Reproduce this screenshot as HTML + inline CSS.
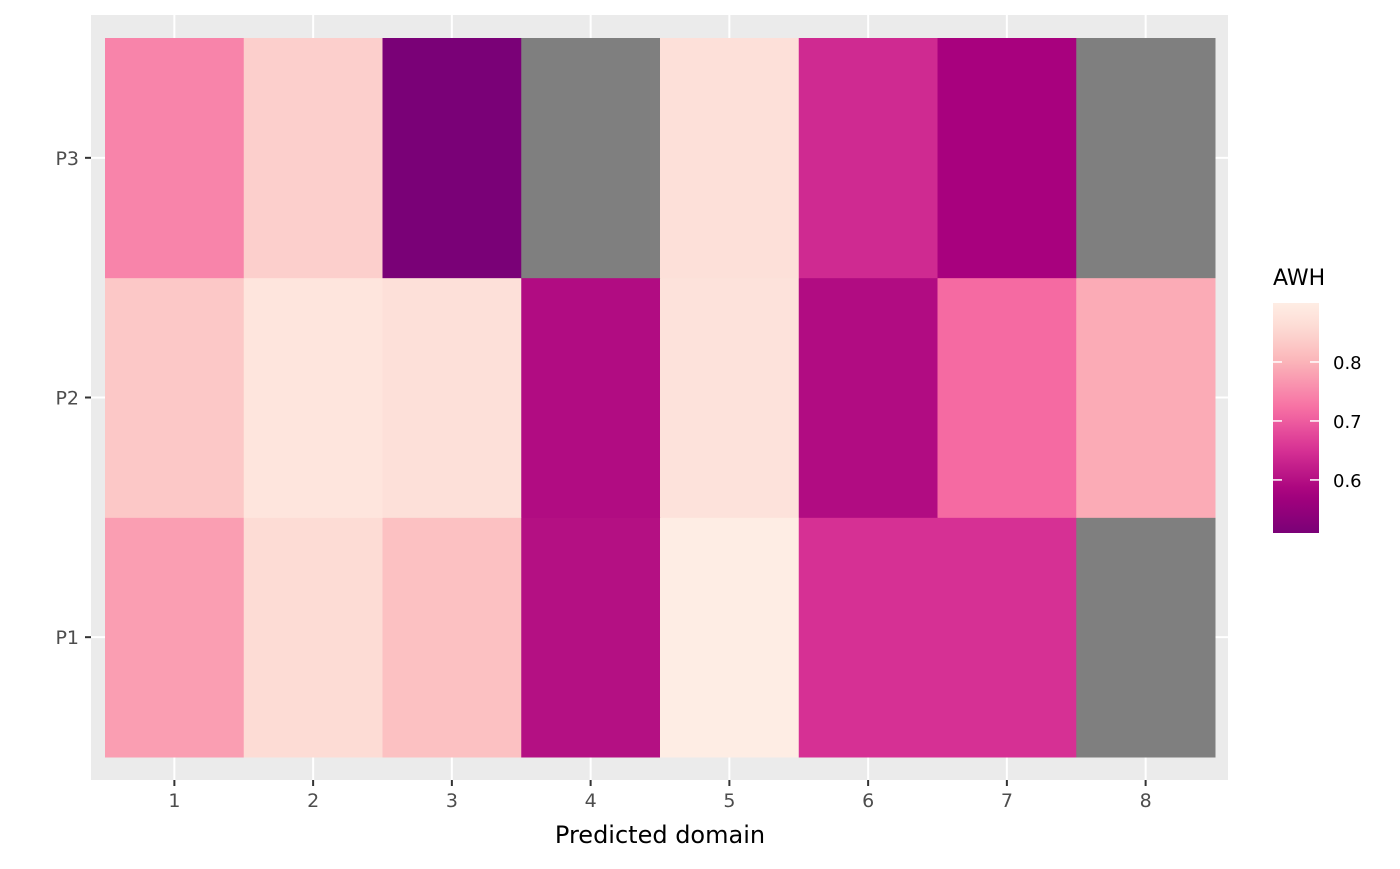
<!DOCTYPE html>
<html><head><meta charset="utf-8"><style>
body{margin:0;background:#fff;font-family:"DejaVu Sans","Liberation Sans",sans-serif;}
</style></head><body>
<svg id="chart" width="1400" height="865" xmlns="http://www.w3.org/2000/svg" font-family="DejaVu Sans, Liberation Sans, sans-serif">
<defs><linearGradient id="lg" x1="0" y1="1" x2="0" y2="0"></linearGradient></defs>
<rect x="91" y="15" width="1137" height="765" fill="#ebebeb"/>
<g id="grid"></g><g id="tiles"></g><g id="axes"></g><g id="legend"></g>
<text x="660" y="843" font-size="24" text-anchor="middle" fill="#000">Predicted domain</text>
</svg>
<script>
const xCats=["1","2","3","4","5","6","7","8"];
const yCats=["P1","P2","P3"];
const rowP1=[0.775,0.86,0.82,0.6,0.9,0.65,0.65,null];
const rowP2=[0.83,0.88,0.87,0.595,0.875,0.595,0.715,0.79];
const rowP3=[0.745,0.84,0.51,null,0.87,0.64,0.58,null];
const legendTicks=[0.6,0.7,0.8];
const legendMin=0.51, legendMax=0.9;
const stops=[[0.51,[122,1,119]],[0.58,[168,1,126]],[0.6,[180,16,131]],[0.65,[214,48,148]],[0.72,[247,110,163]],[0.8,[251,180,185]],[0.86,[253,220,213]],[0.9,[254,237,228]]];
function color(v){if(v==null)return"#7f7f7f";
 for(let i=0;i<stops.length-1;i++){const a=stops[i],b=stops[i+1];
  if(v<=b[0]||i==stops.length-2){let t=Math.max(0,Math.min(1,(v-a[0])/(b[0]-a[0])));
   return"rgb("+a[1].map((c,k)=>Math.round(c+(b[1][k]-c)*t)).join(",")+")";}}}
const NS="http://www.w3.org/2000/svg";
function el(t,a,p){const e=document.createElementNS(NS,t);for(const k in a)e.setAttribute(k,a[k]);document.getElementById(p).appendChild(e);return e;}
const x0=105,tw=(1215-105)/8, y0=38, th=(757-38)/3;
const xs=i=>x0+tw*(i+0.5);
const ys=j=>y0+th*(yCats.length-1-j+0.5);
xCats.forEach((c,i)=>{const g=el("line",{x1:xs(i),x2:xs(i),y1:15,y2:780,stroke:"#fff","stroke-width":2},"grid");
 
 
 el("line",{x1:xs(i),x2:xs(i),y1:780,y2:786,stroke:"#333","stroke-width":2},"axes");
 const l=el("text",{x:xs(i),y:807,"font-size":19,fill:"#4d4d4d","text-anchor":"middle"},"axes");l.textContent=c;
 
 });
yCats.forEach((c,j)=>{const g=el("line",{x1:91,x2:1228,y1:ys(j),y2:ys(j),stroke:"#fff","stroke-width":2},"grid");
 
 
 el("line",{x1:85,x2:91,y1:ys(j),y2:ys(j),stroke:"#333","stroke-width":2},"axes");
 const l=el("text",{x:79,y:ys(j)+7,"font-size":19,fill:"#4d4d4d","text-anchor":"end"},"axes");l.textContent=c;
 
 });
[rowP1,rowP2,rowP3].forEach((row,j)=>row.forEach((v,i)=>{
 const r=el("rect",{x:xs(i)-tw/2,y:ys(j)-th/2,width:tw+0.5,height:th+0.5,fill:color(v)},"tiles");
 
 }));
const lg=document.getElementById("lg");
for(let k=0;k<=20;k++){const v=legendMin+(legendMax-legendMin)*k/20;const s=document.createElementNS(NS,"stop");
 s.setAttribute("offset",k/20);s.setAttribute("stop-color",color(v));lg.appendChild(s);}
const lt=el("text",{x:1273,y:285,"font-size":22,fill:"#000"},"legend");lt.textContent="AWH";


const ly0=533,ly1=303;const ly=v=>ly0-(v-legendMin)/(legendMax-legendMin)*(ly0-ly1);
const bar=el("rect",{x:1273,y:ly1,width:46,height:ly0-ly1,fill:"url(#lg)"},"legend");


legendTicks.forEach(v=>{el("line",{x1:1273,x2:1282,y1:ly(v),y2:ly(v),stroke:"#fff","stroke-width":1.5},"legend");
 el("line",{x1:1310,x2:1319,y1:ly(v),y2:ly(v),stroke:"#fff","stroke-width":1.5},"legend");
 const t=el("text",{x:1333,y:ly(v)+7,"font-size":18,fill:"#000"},"legend");t.textContent=v.toFixed(1);
 
 });
</script>
</body></html>
